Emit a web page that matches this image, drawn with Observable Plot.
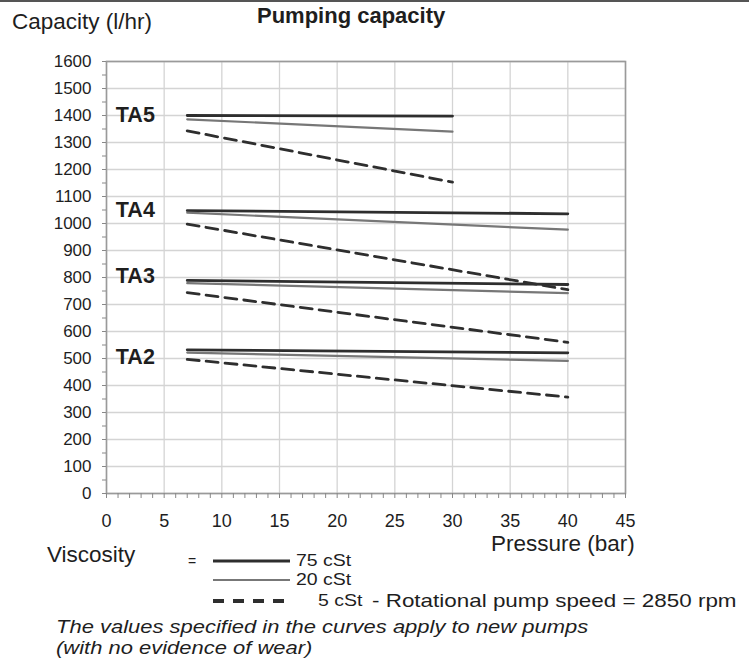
<!DOCTYPE html>
<html>
<head>
<meta charset="utf-8">
<script src="https://cdn.jsdelivr.net/npm/d3@7"></script>
<script src="https://cdn.jsdelivr.net/npm/@observablehq/plot@0.6"></script>
<style>
  html, body { margin: 0; padding: 0; background: #fff; }
  #wrap { position: relative; width: 749px; height: 663px; overflow: hidden; font-family: "Liberation Sans", Arial, sans-serif; color: #1e1e1e; }
  #wrap .t { position: absolute; white-space: nowrap; line-height: 24px; }
  #wrap .s { position: absolute; white-space: nowrap; line-height: 19px; transform-origin: 0 50%; }
  #topline { position: absolute; left: 0; top: 0; width: 749px; height: 2px; background: #555; }
</style>
</head>
<body>
<div id="wrap">
  <div id="topline"></div>
  <div id="chart" style="position:absolute;left:0;top:0;"></div>
  <div class="t" style="left:12px;top:10px;font-size:22.5px;">Capacity (l/hr)</div>
  <div class="t" style="left:257px;top:4px;font-size:22px;font-weight:bold;">Pumping capacity</div>
  <div class="t" style="left:491px;top:532px;font-size:22.5px;">Pressure (bar)</div>
  <div class="t" style="left:47px;top:543px;font-size:22.5px;">Viscosity</div>
  <div class="s" style="left:188px;top:552px;font-size:14px;">=</div>
  <svg id="legend" style="position:absolute;left:210px;top:550px;" width="84" height="60"></svg>
  <div class="s" style="left:296px;top:551px;font-size:16.5px;transform:scaleX(1.18);">75 cSt</div>
  <div class="s" style="left:296px;top:570px;font-size:16.5px;transform:scaleX(1.18);">20 cSt</div>
  <div class="s" style="left:318px;top:591px;font-size:16.5px;transform:scaleX(1.18);">5 cSt</div>
  <div class="s" style="left:372px;top:591px;font-size:19px;transform:scaleX(1.18);">- Rotational pump speed = 2850 rpm</div>
  <div class="s" style="left:56px;top:617px;font-size:18px;font-style:italic;line-height:21px;transform:scaleX(1.22);">The values specified in the curves apply to new pumps<br>(with no evidence of wear)</div>
</div>
<script>
// ---- data ----
const pumps = ["TA5", "TA4", "TA3", "TA2"];
const viscosities = ["75 cSt", "20 cSt", "5 cSt"];
const startPressure = [7, 7, 7, 7];
const endPressure = [30, 40, 40, 40];
const cap75Start = [1400, 1048, 789, 532];
const cap75End = [1398, 1036, 774, 521];
const cap20Start = [1386, 1040, 779, 522];
const cap20End = [1340, 977, 742, 491];
const cap5Start = [1343, 998, 744, 497];
const cap5End = [1153, 755, 560, 357];
const labelCapacity = [1400, 1050, 805, 505];
const labelPressure = 2.5;
const xTicks = d3.range(0, 46, 5);
const yTicks = d3.range(0, 1601, 100);

// ---- build rows ----
const starts = {"75 cSt": cap75Start, "20 cSt": cap20Start, "5 cSt": cap5Start};
const ends = {"75 cSt": cap75End, "20 cSt": cap20End, "5 cSt": cap5End};
const rows = [];
pumps.forEach((p, i) => {
  viscosities.forEach(v => {
    rows.push({pump: p, visc: v, key: p + v, pressure: startPressure[i], capacity: starts[v][i]});
    rows.push({pump: p, visc: v, key: p + v, pressure: endPressure[i], capacity: ends[v][i]});
  });
});
const labels = pumps.map((p, i) => ({pump: p, pressure: labelPressure, capacity: labelCapacity[i]}));

const styles = {
  "75 cSt": {stroke: "#2e2e2e", strokeWidth: 2.8},
  "20 cSt": {stroke: "#777", strokeWidth: 2.2},
  "5 cSt": {stroke: "#2e2e2e", strokeWidth: 2.8, strokeDasharray: "12,7"}
};

const chart = Plot.plot({
  width: 749,
  height: 540,
  marginLeft: 106,
  marginRight: 124,
  marginTop: 61,
  marginBottom: 47,
  style: {fontFamily: "'Liberation Sans', Arial, sans-serif", color: "#1e1e1e", background: "transparent"},
  x: {domain: [0, 45]},
  y: {domain: [0, 1600]},
  marks: [
    Plot.gridY(yTicks, {stroke: "#d4d4d4", strokeOpacity: 1, strokeWidth: 1.3}),
    Plot.gridX(xTicks, {stroke: "#d4d4d4", strokeOpacity: 1, strokeWidth: 1.3}),
    Plot.frame({stroke: "#9a9a9a", strokeWidth: 1.6}),
    Plot.axisY(yTicks, {tickSize: 4, tickPadding: 11, fontSize: 17, tickFormat: d3.format("d"), label: null, stroke: "#888"}),
    Plot.axisY(d3.range(50, 1600, 100), {tickSize: 4, tickFormat: () => "", label: null, stroke: "#888"}),
    Plot.axisX(d3.range(0, 46, 1), {tickSize: 5, tickFormat: () => "", label: null, stroke: "#888"}),
    Plot.axisX(xTicks, {tickSize: 0, tickPadding: 21, fontSize: 18, label: null}),
    ...viscosities.map(v => Plot.line(rows.filter(d => d.visc === v), {
      x: "pressure", y: "capacity", z: "key", ...styles[v]
    })),
    Plot.text(labels, {x: "pressure", y: "capacity", text: "pump", fontSize: 21.5, fontWeight: "bold", fill: "#1e1e1e"})
  ]
});
document.getElementById("chart").appendChild(chart);

// legend swatches
const lg = d3.select("#legend");
const legendY = [11, 30, 51];
viscosities.forEach((v, i) => {
  const s = styles[v];
  lg.append("line").attr("x1", 3).attr("x2", 80).attr("y1", legendY[i]).attr("y2", legendY[i])
    .attr("stroke", s.stroke).attr("stroke-width", i === 2 ? 4 : s.strokeWidth)
    .attr("stroke-dasharray", i === 2 ? "11,9" : null);
});
</script>
</body>
</html>
